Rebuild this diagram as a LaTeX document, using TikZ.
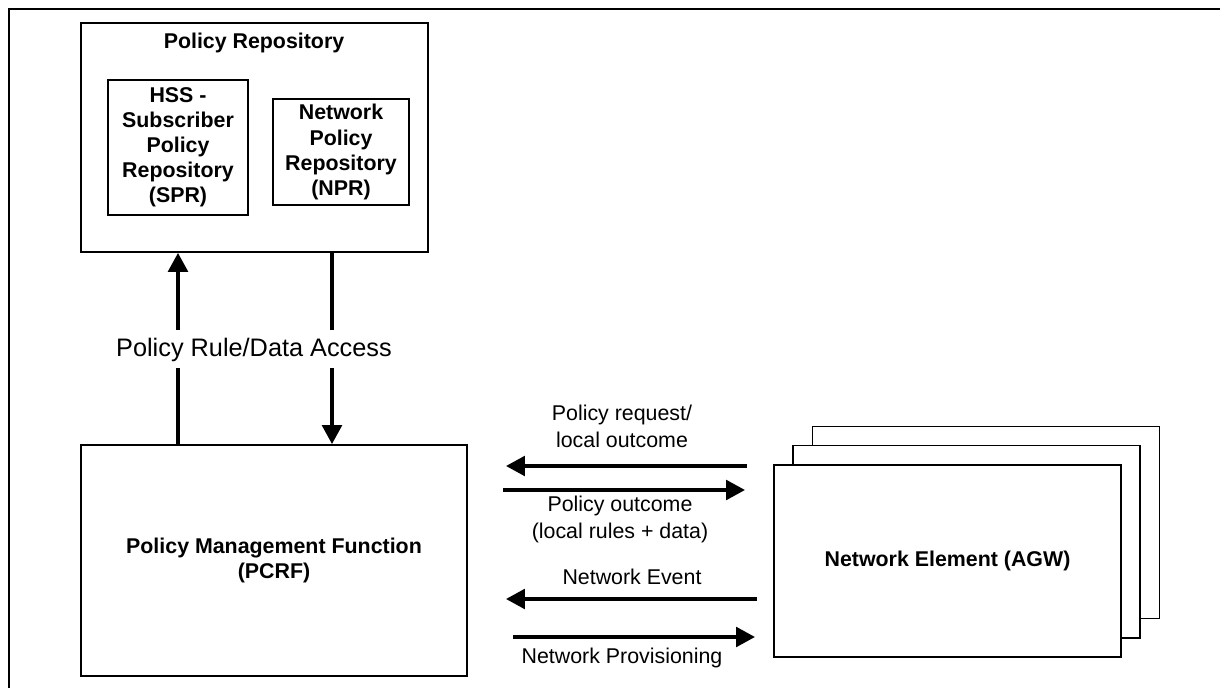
\documentclass[tikz,border=0pt]{standalone}
\usepackage{fontspec}
\setmainfont{Liberation Sans}
\usetikzlibrary{arrows.meta}

\tikzset{
  box/.style={draw,line width=1.3pt,minimum width=#1},
  subbox/.style={draw,line width=0.8pt,align=center,font=\bfseries\fontsize{15.2}{17.8}\selectfont},
  stackbox/.style={draw,line width=1pt,fill=white,minimum width=8.675cm,minimum height=4.8cm},
  flow/.style={line width=2.5pt,-{Triangle[length=13.5pt,width=14pt]}},
  bar/.style={line width=2.5pt},
  msg/.style={align=center,font=\fontsize{15.2}{19.2}\selectfont},
}

\begin{document}
\begin{tikzpicture}
\useasboundingbox (0,0) rectangle (30.5,17.2);
% outer frame
\draw[line width=2pt] (0.225,0) -- (0.225,16.975) -- (30.5,16.975);

% policy repository
\draw (6.3625,13.7625) node[box=8.675cm,minimum height=5.725cm](repo) {};
\draw (6.35,16.125) node[font=\bfseries\fontsize{15.2}{17.8}\selectfont](repotitle) {Policy Repository};
\draw (4.45,13.5125) node[subbox,minimum width=3.5cm,minimum height=3.375cm](spr) {HSS -\\Subscriber\\Policy\\Repository\\(SPR)};
\draw (8.525,13.4) node[subbox,minimum width=3.4cm,minimum height=2.65cm](npr) {Network\\Policy\\Repository\\(NPR)};

% policy management function
\draw (6.85,3.1875) node[box=9.65cm,minimum height=5.775cm,align=center,font=\bfseries\fontsize{15.2}{17.8}\selectfont](pmf) {Policy Management Function\\(PCRF)};

% rule/data access
\draw (6.35,8.475) node[font=\fontsize{18}{21}\selectfont,text height=14pt,text depth=4pt,inner ysep=4.5pt](access) {Policy Rule/Data Access};
\coordinate (upx) at (4.45,0);
\coordinate (dnx) at (8.3,0);
\draw[bar] (pmf.north -| upx) -- (access.south -| upx);
\draw[flow] (access.north -| upx) -- (repo.south -| upx);
\draw[bar] (repo.south -| dnx) -- (access.north -| dnx);
\draw[flow] (access.south -| dnx) -- (pmf.north -| dnx);

% network element (stacked)
\draw (24.65,4.135) node[stackbox](ne3) {};
\draw (24.1625,3.655) node[stackbox](ne2) {};
\draw (23.6875,3.175) node[stackbox,font=\bfseries\fontsize{15.2}{17.8}\selectfont](ne) {Network Element (AGW)};

% messages
\coordinate (reqA) at (18.675,5.55);
\coordinate (reqB) at (12.65,5.55);
\coordinate (outA) at (12.575,4.95);
\coordinate (outB) at (18.625,4.95);
\coordinate (evA) at (18.925,2.225);
\coordinate (evB) at (12.65,2.225);
\coordinate (provA) at (12.825,1.275);
\coordinate (provB) at (18.875,1.275);
\draw[flow] (reqA) -- (reqB);
\draw[flow] (outA) -- (outB);
\draw[flow] (evA) -- (evB);
\draw[flow] (provA) -- (provB);
\draw (15.55,6.5375) node[msg](req) {Policy request/\\local outcome};
\draw (15.5,4.2125) node[msg](out) {Policy outcome\\(local rules + data)};
\draw (15.8,2.775) node[msg](ev) {Network Event};
\draw (15.55,0.75) node[msg](prov) {Network Provisioning};
\end{tikzpicture}
\end{document}
